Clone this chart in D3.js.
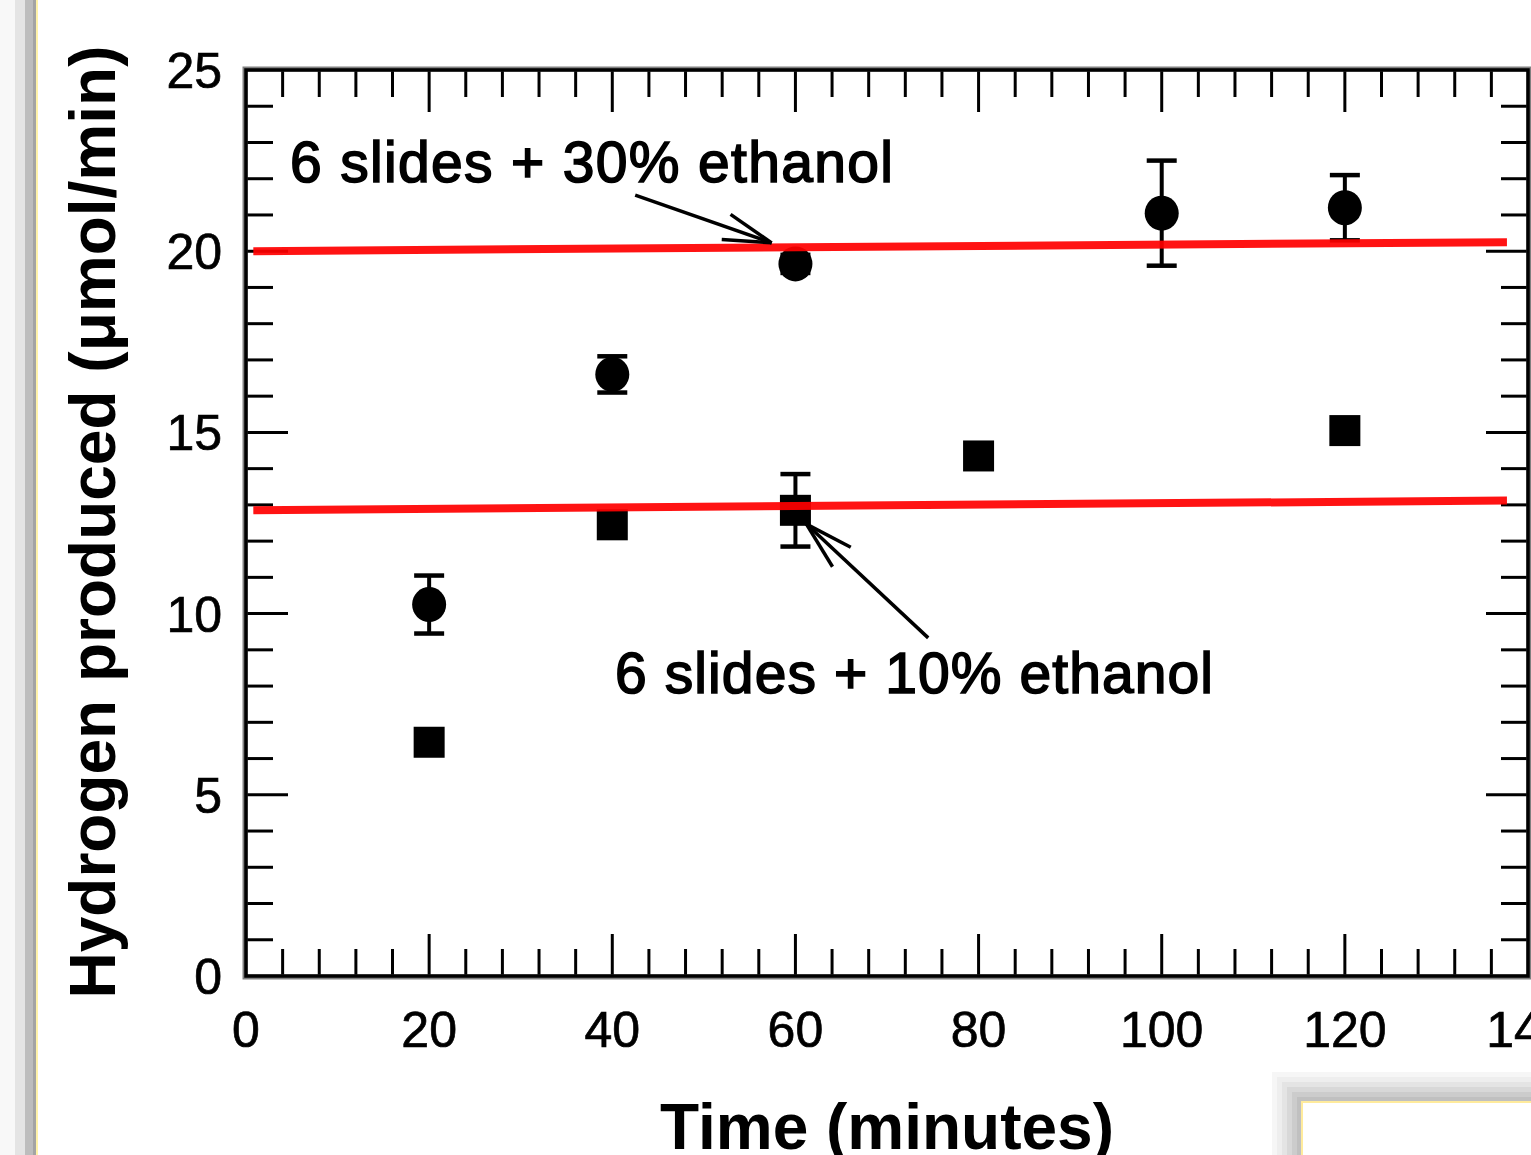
<!DOCTYPE html>
<html>
<head>
<meta charset="utf-8">
<script src="https://cdnjs.cloudflare.com/ajax/libs/d3/7.8.5/d3.min.js"></script>
<style>
  body { margin: 0; background: #fff; }
  svg { display: block; }
  text { font-family: "Liberation Sans", Arial, sans-serif; fill: #000; }
</style>
</head>
<body>
<svg id="chart" width="1531" height="1155"></svg>
<script>
// 6 slides + 30% ethanol (circles)
var timeCircles = [20, 40, 60, 100, 120];
var h2Circles   = [10.25, 16.6, 19.65, 21.05, 21.2];
var errCircles  = [0.8, 0.5, 0.25, 1.45, 0.9];

// 6 slides + 10% ethanol (squares)
var timeSquares = [20, 40, 60, 80, 120];
var h2Squares   = [6.45, 12.45, 12.85, 14.35, 15.05];
var errSquares  = [0, 0, 1.0, 0, 0];

// red fit lines: [x start, y start, x end, y end]
var fit30 = [0.8, 20.0, 137.7, 20.25];
var fit10 = [0.8, 12.85, 137.7, 13.12];

var xTicks = [0, 20, 40, 60, 80, 100, 120, 140];
var yTicks = [0, 5, 10, 15, 20, 25];

var svg = d3.select("#chart");

// note: "top" is reserved on window, so use plot* names
var plotL = 246, plotR = 1528, plotT = 70, plotB = 976;

var x = d3.scaleLinear().domain([0, 140]).range([plotL, plotR]);
var y = d3.scaleLinear().domain([0, 25]).range([plotB, plotT]);

// window decoration: left gray strip
var strip = [["#f8f8f8", 0, 15], ["#e4e4e4", 15, 25], ["#bdbdbd", 25, 33], ["#a4a4a4", 33, 36], ["#fff2a8", 36, 38]];
strip.forEach(function (s) {
  svg.append("rect").attr("x", s[1]).attr("y", 0).attr("width", s[2] - s[1]).attr("height", 1155).attr("fill", s[0]);
});

// bottom-right box with soft shadow
var shadow = ["#f6f6f6", "#eeeeee", "#e4e4e4", "#d8d8d8", "#cccccc", "#c0c0c0"];
shadow.forEach(function (c, i) {
  var off = (shadow.length - i) * 5;
  svg.append("rect").attr("x", 1302 - off).attr("y", 1102 - off)
    .attr("width", 400).attr("height", 200).attr("fill", c);
});
svg.append("rect").attr("x", 1302).attr("y", 1102).attr("width", 400).attr("height", 200)
  .attr("fill", "#fff").attr("stroke", "#ffeb9c").attr("stroke-width", 2);

// minor / major ticks on all four sides
var g = svg.append("g");
var xMinor = d3.range(0, 141, 4);
var yMinor = d3.range(0, 26, 1);
var tickLen = function (major) { return major ? 42 : 27; };

xMinor.forEach(function (v) {
  var major = v % 20 === 0;
  if (v === 0 || v === 140) return;
  g.append("line").attr("x1", x(v)).attr("x2", x(v)).attr("y1", plotB).attr("y2", plotB - tickLen(major))
    .attr("stroke", "#000").attr("stroke-width", 3);
  g.append("line").attr("x1", x(v)).attr("x2", x(v)).attr("y1", plotT).attr("y2", plotT + tickLen(major))
    .attr("stroke", "#000").attr("stroke-width", 3);
});
yMinor.forEach(function (v) {
  var major = v % 5 === 0;
  if (v === 0 || v === 25) return;
  g.append("line").attr("x1", plotL).attr("x2", plotL + tickLen(major)).attr("y1", y(v)).attr("y2", y(v))
    .attr("stroke", "#000").attr("stroke-width", 3);
  g.append("line").attr("x1", plotR).attr("x2", plotR - tickLen(major)).attr("y1", y(v)).attr("y2", y(v))
    .attr("stroke", "#000").attr("stroke-width", 3);
});

// frame
svg.append("rect").attr("x", plotL - 1).attr("y", plotT - 1).attr("width", plotR - plotL + 2).attr("height", plotB - plotT + 2)
  .attr("fill", "none").attr("stroke", "#808080").attr("stroke-width", 5);
svg.append("rect").attr("x", plotL).attr("y", plotT).attr("width", plotR - plotL).attr("height", plotB - plotT)
  .attr("fill", "none").attr("stroke", "#000").attr("stroke-width", 3.5);

// tick labels
svg.append("g").selectAll("text").data(xTicks).enter().append("text")
  .attr("x", function (d) { return x(d); })
  .attr("y", plotB + 71)
  .attr("text-anchor", "middle")
  .attr("font-size", 50)
  .attr("stroke", "#000").attr("stroke-width", 0.7)
  .text(function (d) { return d; });

svg.append("g").selectAll("text").data(yTicks).enter().append("text")
  .attr("x", 222)
  .attr("y", function (d) { return y(d); })
  .attr("dy", "0.36em")
  .attr("text-anchor", "end")
  .attr("font-size", 50)
  .attr("stroke", "#000").attr("stroke-width", 0.7)
  .text(function (d) { return d; });

// axis titles
svg.append("text")
  .attr("transform", "translate(115,522) rotate(-90)")
  .attr("text-anchor", "middle")
  .attr("font-size", 64)
  .attr("font-weight", "bold")
  .text("Hydrogen produced (\u03bcmol/min)");

svg.append("text")
  .attr("x", 887).attr("y", 1149)
  .attr("text-anchor", "middle")
  .attr("font-size", 64)
  .attr("font-weight", "bold")
  .text("Time (minutes)");

// error bars
function errorBars(xs, ys, es) {
  var eg = svg.append("g");
  xs.forEach(function (t, i) {
    if (!es[i]) return;
    var cx = x(t), y1 = y(ys[i] + es[i]), y2 = y(ys[i] - es[i]);
    eg.append("line").attr("x1", cx).attr("x2", cx).attr("y1", y1).attr("y2", y2)
      .attr("stroke", "#000").attr("stroke-width", 4);
    [y1, y2].forEach(function (yy) {
      eg.append("line").attr("x1", cx - 15).attr("x2", cx + 15).attr("y1", yy).attr("y2", yy)
        .attr("stroke", "#000").attr("stroke-width", 4.5);
    });
  });
}
errorBars(timeCircles, h2Circles, errCircles);
errorBars(timeSquares, h2Squares, errSquares);

// markers
svg.append("g").selectAll("ellipse").data(timeCircles).enter().append("ellipse")
  .attr("cx", function (d) { return x(d); })
  .attr("cy", function (d, i) { return y(h2Circles[i]); })
  .attr("rx", 17).attr("ry", 17.5)
  .attr("fill", "#000");

svg.append("g").selectAll("rect").data(timeSquares).enter().append("rect")
  .attr("x", function (d) { return x(d) - 15.5; })
  .attr("y", function (d, i) { return y(h2Squares[i]) - 15.5; })
  .attr("width", 31).attr("height", 31)
  .attr("fill", "#000");

// red fit lines
[fit30, fit10].forEach(function (f) {
  svg.append("line")
    .attr("x1", x(f[0])).attr("y1", y(f[1]))
    .attr("x2", x(f[2])).attr("y2", y(f[3]))
    .attr("stroke", "#ff0000").attr("stroke-width", 8).attr("opacity", 0.92);
});

// annotations with open arrows
function arrow(tx, ty, hx, hy) {
  var x1 = x(tx), y1 = y(ty), x2 = x(hx), y2 = y(hy);
  var ang = Math.atan2(y1 - y2, x1 - x2);
  var ag = svg.append("g").attr("stroke", "#000").attr("stroke-width", 3.5).attr("fill", "none");
  ag.append("line").attr("x1", x1).attr("y1", y1).attr("x2", x2).attr("y2", y2);
  [-0.27, 0.27].forEach(function (da) {
    ag.append("line").attr("x1", x2).attr("y1", y2)
      .attr("x2", x2 + 50 * Math.cos(ang + da)).attr("y2", y2 + 50 * Math.sin(ang + da));
  });
}
arrow(42.5, 21.55, 57.4, 20.23);
arrow(74.5, 9.33, 61.2, 12.47);

svg.append("text")
  .attr("x", x(4.8)).attr("y", y(21.9))
  .attr("font-size", 57)
  .attr("stroke", "#000").attr("stroke-width", 1.6)
  .attr("textLength", 603).attr("lengthAdjust", "spacing")
  .text("6 slides + 30% ethanol");

svg.append("text")
  .attr("x", x(40.3)).attr("y", y(7.81))
  .attr("font-size", 57)
  .attr("stroke", "#000").attr("stroke-width", 1.6)
  .attr("textLength", 598).attr("lengthAdjust", "spacing")
  .text("6 slides + 10% ethanol");
</script>
</body>
</html>
